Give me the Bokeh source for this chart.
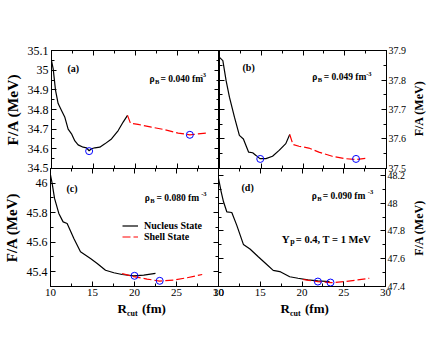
import math
from bokeh.plotting import figure
from bokeh.models import (LinearAxis, SingleIntervalTicker, CustomJSTickFormatter,
                          Range1d, Label, Legend, LegendItem)
from bokeh.layouts import column, row
from bokeh.embed import file_html
from bokeh.resources import INLINE

# ---------------- data ----------------
# panel (a) rho_B = 0.040 fm^-3
a_nuc_r = [10.0, 10.2, 10.48, 10.79, 11.19, 11.59, 11.98, 12.38, 12.78, 13.17, 13.77,
           14.17, 14.48, 14.76, 15.16, 15.75, 16.35, 17.14, 17.94, 18.53, 19.05]
a_nuc_f = [35.049, 35.007, 34.897, 34.83, 34.795, 34.76, 34.70, 34.676, 34.64, 34.62, 34.608,
           34.605, 34.59, 34.60, 34.605, 34.608, 34.625, 34.65, 34.693, 34.736, 34.77]
a_sh_r = [19.05, 19.4, 20.3, 21.9, 23.5, 25.08, 26.47, 27.46, 28.57]
a_sh_f = [34.77, 34.73, 34.724, 34.71, 34.697, 34.68, 34.671, 34.676, 34.68]
a_min_r = [14.48, 26.47]
a_min_f = [34.588, 34.671]

# panel (b) rho_B = 0.049 fm^-3
b_nuc_r = [10.0, 10.4, 10.79, 11.19, 11.79, 12.38, 12.86, 13.49, 13.97, 14.37, 14.84,
           15.56, 16.35, 17.14, 17.94, 18.41]
b_nuc_f = [37.877, 37.866, 37.798, 37.742, 37.674, 37.612, 37.6, 37.555, 37.553, 37.544, 37.533,
           37.533, 37.541, 37.561, 37.584, 37.615]
b_sh_r = [18.41, 18.8, 19.52, 20.7, 21.9, 23.5, 25.08, 26.35, 27.46]
b_sh_f = [37.615, 37.581, 37.575, 37.569, 37.555, 37.541, 37.533, 37.53, 37.534]
b_min_r = [14.88, 26.35]
b_min_f = [37.532, 37.532]

# panel (c) rho_B = 0.080 fm^-3
c_nuc_r = [10.0, 10.2, 10.48, 10.99, 11.5, 11.98, 12.78, 13.57, 14.76, 15.56, 16.55,
           17.54, 18.53, 19.92, 21.1, 22.5]
c_nuc_f = [46.055, 45.998, 45.897, 45.795, 45.738, 45.727, 45.625, 45.535, 45.49, 45.456, 45.41,
           45.393, 45.381, 45.372, 45.377, 45.388]
c_sh_r = [18.53, 19.92, 21.5, 23.0, 24.68, 26.27, 28.06]
c_sh_f = [45.388, 45.366, 45.35, 45.336, 45.343, 45.359, 45.381]
c_min_r = [20.0, 23.0]
c_min_f = [45.372, 45.338]

# panel (d) rho_B = 0.090 fm^-3
d_nuc_r = [10.0, 10.32, 10.6, 10.99, 11.59, 12.18, 12.98, 13.77, 14.76, 15.75, 16.55,
           17.34, 18.53, 19.52, 20.71, 21.9, 23.3]
d_nuc_f = [48.178, 48.082, 48.01, 47.938, 47.933, 47.842, 47.703, 47.67, 47.614, 47.56, 47.516,
           47.507, 47.47, 47.459, 47.447, 47.44, 47.435]
d_sh_r = [20.1, 21.9, 23.5, 25.08, 26.67, 28.06]
d_sh_f = [47.45, 47.435, 47.427, 47.435, 47.447, 47.459]
d_min_r = [21.9, 23.41]
d_min_f = [47.435, 47.428]

densities = ["0.040", "0.049", "0.080", "0.090"]
panel_tags = ["(a)", "(b)", "(c)", "(d)"]
legend_labels = ["Nucleus State", "Shell State"]
y_label = "F/A (MeV)"

SERIF = "Liberation Serif"
FH = 118


def tick_fmt():
    return CustomJSTickFormatter(code="return String(Number(tick.toFixed(2)));")


def blank_fmt():
    return CustomJSTickFormatter(code="return '';")


def add_axis(p, side, interval, show, size="12px", standoff=3, label=None,
             label_size="15px", label_standoff=3):
    ax = LinearAxis(ticker=SingleIntervalTicker(interval=interval, num_minor_ticks=2),
                    formatter=tick_fmt() if show else blank_fmt())
    ax.major_tick_in = 5
    ax.major_tick_out = 0
    ax.minor_tick_in = 3
    ax.minor_tick_out = 0
    ax.axis_line_color = "black"
    ax.major_tick_line_color = "black"
    ax.minor_tick_line_color = "black"
    ax.major_label_text_font = SERIF
    ax.major_label_text_color = "black"
    ax.major_label_text_font_size = size if show else "0px"
    ax.major_label_standoff = standoff if show else 0
    if label:
        ax.axis_label = label
        ax.axis_label_text_font = SERIF
        ax.axis_label_text_font_style = "bold"
        ax.axis_label_text_font_size = label_size
        ax.axis_label_text_color = "black"
        ax.axis_label_standoff = label_standoff
    else:
        ax.axis_label_standoff = 0
    p.add_layout(ax, side)


def lab(p, x, y, text, size, align="left", baseline="alphabetic", bold=True, angle=0.0):
    p.add_layout(Label(x=x, y=y, x_units="screen", y_units="screen", text=text,
                       text_font=SERIF, text_font_size=f"{size}px",
                       text_font_style="bold" if bold else "normal",
                       text_color="black", text_align=align,
                       text_baseline=baseline, angle=angle))


def make_fig(fw, yr, borders, **kw):
    l, r, t, b = borders
    p = figure(frame_width=fw, frame_height=FH,
               x_range=Range1d(9.999, 30.001), y_range=Range1d(yr[0], yr[1]),
               x_axis_location=None, y_axis_location=None,
               toolbar_location=None, output_backend="svg",
               min_border_left=l, min_border_right=r, min_border_top=t, min_border_bottom=b,
               **kw)
    p.grid.visible = False
    p.outline_line_color = "black"
    p.outline_line_width = 1
    p.background_fill_color = "white"
    p.border_fill_alpha = 0
    return p


def draw(p, nr, nf, sr, sf, mr, mf):
    rn = p.line(nr, nf, line_color="black", line_width=1.2)
    rs = p.line(sr, sf, line_color="red", line_width=1.2, line_dash="8 3")
    p.scatter(mr, mf, size=7, marker="circle", fill_color=None, line_color="blue", line_width=1)
    return rn, rs


def density_text(p, idx, x_rho, x_eq, x_sup, base_top):
    yb = FH - base_top
    lab(p, x_rho, yb, "\u03c1", 9.5)
    lab(p, x_rho + 5.5, yb - 2.5, "B", 6.5)
    lab(p, x_eq, yb, "= " + densities[idx] + " fm", 9.5)
    lab(p, x_sup, yb + 3.5, "-3", 6.5)


# ---- panel a ----
pa = make_fig(168, (34.4995, 35.1005), (50, 0, 50, 8))
add_axis(pa, "left", 0.1, True, "12px", 3, label=y_label, label_size="15.5px", label_standoff=4)
add_axis(pa, "right", 0.1, False)
add_axis(pa, "above", 5, False)
add_axis(pa, "below", 5, False)
draw(pa, a_nuc_r, a_nuc_f, a_sh_r, a_sh_f, a_min_r, a_min_f)
lab(pa, 16, FH - 17.5, panel_tags[0], 10)
density_text(pa, 0, 98, 109, 149, 28.3)

# ---- panel b ----
pb = make_fig(167, (37.4995, 37.9005), (0, 24, 50, 8))
add_axis(pb, "right", 0.1, True, "10px", 2)
add_axis(pb, "left", 0.1, False)
add_axis(pb, "above", 5, False)
add_axis(pb, "below", 5, False)
draw(pb, b_nuc_r, b_nuc_f, b_sh_r, b_sh_f, b_min_r, b_min_f)
lab(pb, 23, FH - 16.5, panel_tags[1], 10)
density_text(pb, 1, 92.7, 104.3, 146.7, 26.7)

# ---- panel c ----
pc = make_fig(168, (45.2995, 46.1), (50, 8, 0, 16))
add_axis(pc, "left", 0.2, True, "12px", 3, label=y_label, label_size="15px", label_standoff=4)
add_axis(pc, "right", 0.2, False)
add_axis(pc, "above", 5, False)
add_axis(pc, "below", 5, True, "11px", 2)
rn_c, rs_c = draw(pc, c_nuc_r, c_nuc_f, c_sh_r, c_sh_f, c_min_r, c_min_f)
lab(pc, 16, FH - 19.5, panel_tags[2], 10)
density_text(pc, 2, 94.3, 106, 150.7, 29)
leg = Legend(items=[LegendItem(label=legend_labels[0], renderers=[rn_c]),
                    LegendItem(label=legend_labels[1], renderers=[rs_c])],
             location=(72, 44.5), orientation="vertical",
             padding=0, margin=0, spacing=0,
             glyph_width=16, glyph_height=11, label_height=11, label_standoff=6,
             label_text_font=SERIF, label_text_font_size="10px",
             label_text_font_style="bold", label_text_color="black",
             background_fill_alpha=0, border_line_alpha=0)
pc.add_layout(leg, "center")

# ---- panel d ----
pd_ = make_fig(167, (47.3995, 48.25), (8, 24, 0, 16), margin=(0, 0, 0, -16))
add_axis(pd_, "right", 0.2, True, "10px", 2)
add_axis(pd_, "left", 0.2, False)
add_axis(pd_, "above", 5, False)
add_axis(pd_, "below", 5, True, "11px", 2)
draw(pd_, d_nuc_r, d_nuc_f, d_sh_r, d_sh_f, d_min_r, d_min_f)
lab(pd_, 23, FH - 18.5, panel_tags[3], 10)
density_text(pd_, 3, 93.3, 104.3, 149.3, 27)
lab(pd_, 63.3, FH - 70.7, "Y", 11)
lab(pd_, 71.7, FH - 73, "p", 8)
lab(pd_, 77.3, FH - 70.7, "= 0.4, T = 1 MeV", 10.5)


def holder(w, h):
    f = figure(width=w, height=h, x_range=Range1d(0, 1), y_range=Range1d(0, 1),
               x_axis_location=None, y_axis_location=None, toolbar_location=None,
               output_backend="svg", min_border_left=0, min_border_right=0,
               min_border_top=0, min_border_bottom=0)
    f.grid.visible = False
    f.outline_line_color = None
    f.background_fill_alpha = 0
    f.border_fill_alpha = 0
    return f


# ---- x-axis titles (R_cut (fm)) under panels c and d ----
XH = 30
px = holder(409, XH)
for x0 in (117, 280):
    lab(px, x0, XH - 6, "R", 13)
    lab(px, x0 + 9.5, XH - 11, "cut", 8)
    lab(px, x0 + 24.5, XH - 6, "(fm)", 13)

# ---- right-hand y titles for panels b and d ----
RH = 332
pr = holder(26, RH)
lab(pr, 8.5, RH - 108, y_label, 12, align="center", baseline="middle", angle=math.pi / 2)
lab(pr, 8.5, RH - 227.5, y_label, 12, align="center", baseline="middle", angle=math.pi / 2)

grid_col = column(row(pa, pb), row(pc, pd_, margin=(-8, 0, 0, 0)), px)
layout = row(grid_col, pr)
open("out.html", "w").write(file_html(layout, INLINE))
